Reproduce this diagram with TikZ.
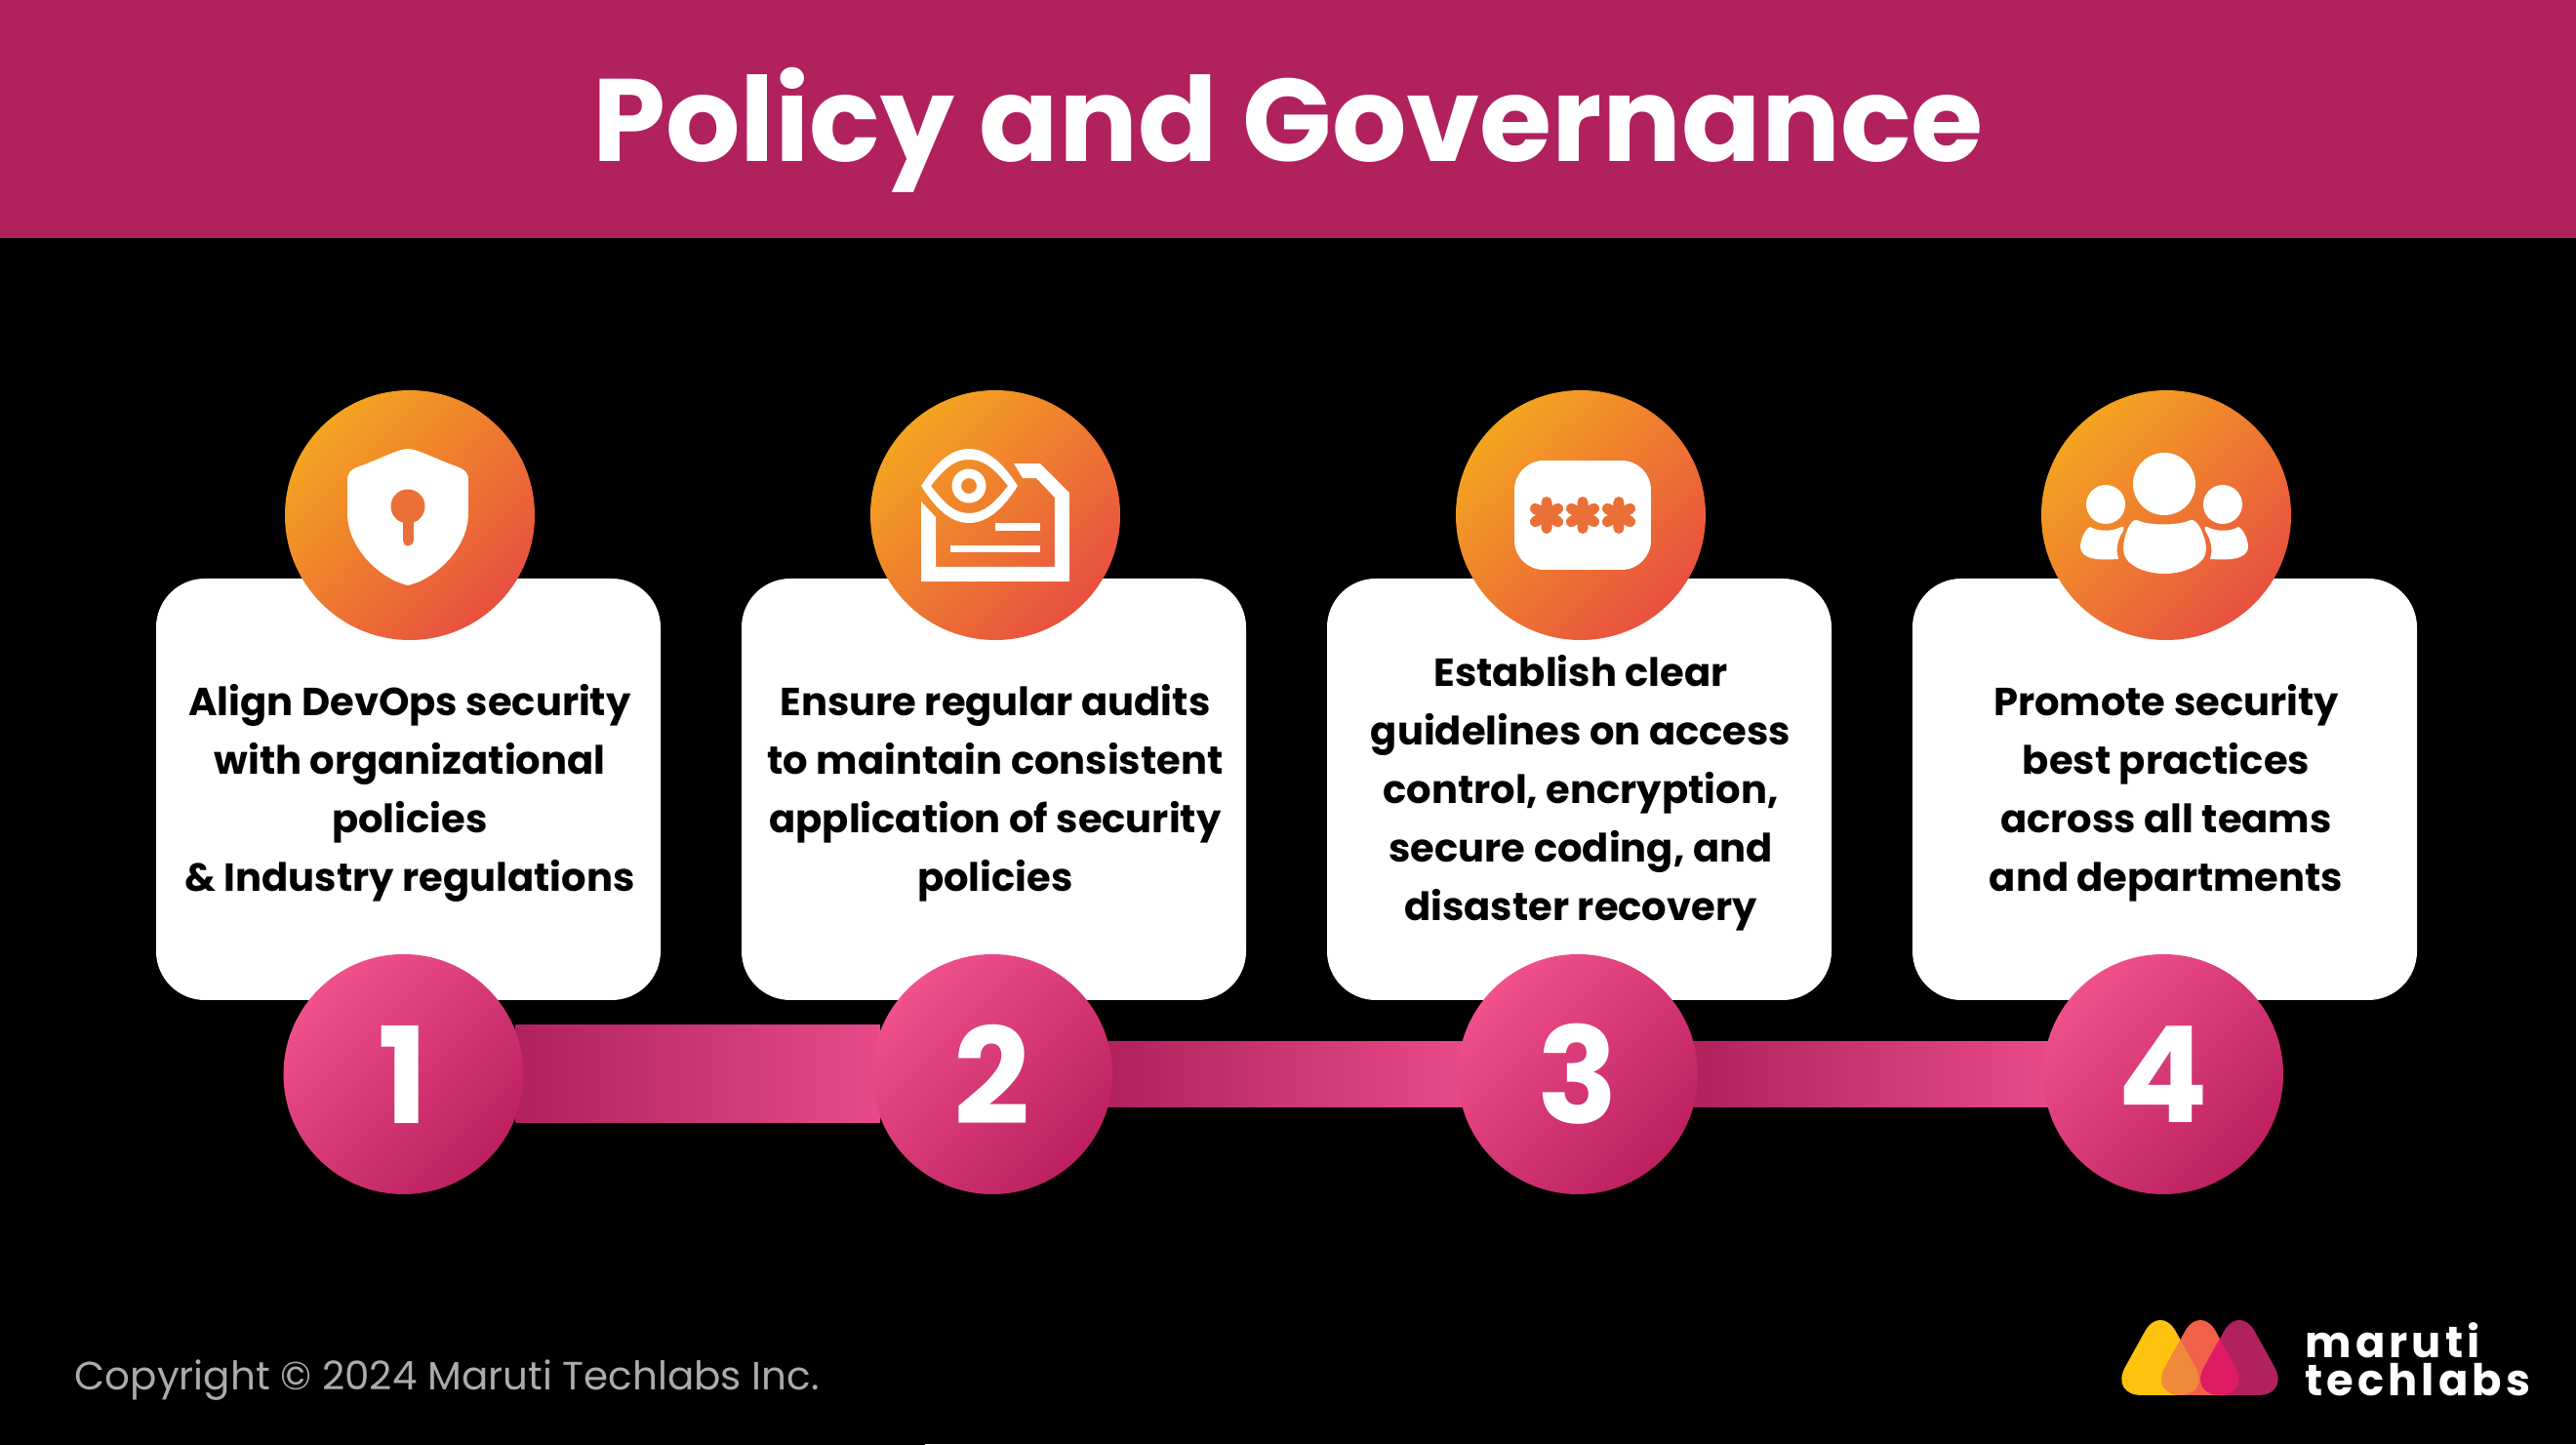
\documentclass[tikz,border=0pt]{standalone}
\usepackage{fontspec}
\setmainfont{Poppins}
\newfontfamily\logofont[LetterSpace=9]{Poppins}
\usepackage{tikz}

\definecolor{headerpink}{HTML}{B0215E}
\definecolor{iconorange}{HTML}{EB7038}
\definecolor{sunyellow}{HTML}{F4A420}
\definecolor{sunred}{HTML}{E85040}
\definecolor{dotlight}{HTML}{F0508C}
\definecolor{dotmid}{HTML}{CC1A5C}
\definecolor{dotdark}{HTML}{BC2060}
\definecolor{bandlight}{HTML}{E84A8A}
\definecolor{copygrey}{HTML}{ABABAB}
\definecolor{logoyellow}{HTML}{FFC20E}
\definecolor{logored}{HTML}{F2604A}
\definecolor{logoorange}{HTML}{F08A3A}
\definecolor{logopink}{HTML}{DE1B63}

\newcommand{\logotri}[1]{(#1-.52,.51) -- (#1,1.45) -- (#1+.52,.51) -- cycle}

\tikzset{
    card/.style={
        fill=white, rounded corners=.5cm, minimum width=5.17cm, minimum height=4.32cm,
        inner sep=0pt
    },
    cardtext/.style={
        inner sep=0pt, align=center, text=black, xshift=.015cm, yshift=-.04cm,
        font=\bfseries\fontsize{11.4}{17.07}\selectfont
    },
    icondot/.style={
        circle, minimum size=2.56cm, inner sep=0pt,
        left color=sunyellow, right color=sunred, shading angle=45
    },
    numdot/.style={
        circle, minimum size=2.46cm, inner sep=0pt, text=white,
        left color=dotlight, middle color=dotmid, right color=dotdark, shading angle=45,
        font=\bfseries\fontsize{39}{39}\selectfont
    },
    iconpart/.style={shift={(#1)}, x=.01cm, y=.01cm}
}

\begin{document}
\begin{tikzpicture}
    \useasboundingbox (0,0) rectangle (26.4,14.81);
    \fill[black] (0,0) rectangle (26.4,14.81);
    \fill[white] (9.48,0) rectangle (26.4,.012);

    % header
    \node (header) at (13.2,13.59) [
        fill=headerpink, minimum width=26.4cm, minimum height=2.44cm, inner sep=0pt
    ] {};
    \node (title) at (13.2,13.48) [
        inner sep=0pt, text=white, font=\bfseries\fontsize{34.2}{40}\selectfont
    ] {Policy and Governance};

    % cards
    \node[card] (card1) at (4.185,6.72) {};
    \node[card] (card2) at (10.185,6.72) {};
    \node[card] (card3) at (16.185,6.72) {};
    \node[card] (card4) at (22.185,6.72) {};
    \node[cardtext] (text1) at (card1) {Align DevOps security\\with organizational\\policies\\\& Industry regulations};
    \node[cardtext] (text2) at (card2) {Ensure regular audits\\to maintain consistent\\application of security\\policies};
    \node[cardtext] (text3) at (card3) {Establish clear\\guidelines on access\\control, encryption,\\secure coding, and\\disaster recovery};
    \node[cardtext] (text4) at (card4) {Promote security\\best practices\\across all teams\\and departments};

    % icons
    \node[icondot] (icon1) at (4.20,9.53) {};
    \node[icondot] (icon2) at (10.20,9.53) {};
    \node[icondot] (icon3) at (16.20,9.53) {};
    \node[icondot] (icon4) at (22.20,9.53) {};

    % shield
    \begin{scope}[iconpart=icon1]
        \fill[white] (-2,68) .. controls (8,68) and (30,56) .. (48,50)
            .. controls (56,47) and (60,44) .. (60,36) -- (60,2)
            .. controls (60,-35) and (25,-66) .. (-2,-72)
            .. controls (-29,-66) and (-64,-35) .. (-64,2) -- (-64,36)
            .. controls (-64,44) and (-60,47) .. (-52,50)
            .. controls (-34,56) and (-12,68) .. (-2,68) -- cycle;
        \fill[iconorange] (-2,9) circle (17.5);
        \draw[iconorange, line width=.11cm, line cap=round] (-2,5) -- (-2,-26);
    \end{scope}

    % document with eye
    \begin{scope}[iconpart=icon2]
        \fill[white] (-76,14) -- (-76,-68) -- (76,-68) -- (76,23) -- (46,53) -- (19,53) -- (28,38)
            -- (42,38) -- (61,18) -- (61,-53) -- (-61,-53) -- (-61,-2) -- cycle;
        \fill[white, even odd rule] (-76,30) .. controls (-60,55) and (-45,68) .. (-27,68)
            .. controls (-9,68) and (7,55) .. (23,30)
            .. controls (7,5) and (-9,-8) .. (-27,-8)
            .. controls (-45,-8) and (-60,5) .. (-76,30) -- cycle
            (-66,30) .. controls (-52,48) and (-42,57) .. (-27,57)
            .. controls (-12,57) and (-1,48) .. (13,30)
            .. controls (-1,12) and (-12,2) .. (-27,2)
            .. controls (-42,2) and (-52,12) .. (-66,30) -- cycle;
        \fill[white, even odd rule] (-27,30) circle (17.5) (-27,30) circle (8);
        \fill[white] (0,-8) rectangle (46,-16);
        \fill[white] (-46,-31) rectangle (46,-38);
    \end{scope}

    % password box
    \begin{scope}[iconpart=icon3]
        \fill[white, rounded corners=.3cm] (-68,56) rectangle (72,-56);
        \draw[iconorange, line width=.11cm, line cap=round]
            (-35,13.5) -- (-35,-13.5) (-46.7,6.75) -- (-23.3,-6.75) (-46.7,-6.75) -- (-23.3,6.75)
            (2,13.5) -- (2,-13.5) (-9.7,6.75) -- (13.7,-6.75) (-9.7,-6.75) -- (13.7,6.75)
            (39,13.5) -- (39,-13.5) (27.3,6.75) -- (50.7,-6.75) (27.3,-6.75) -- (50.7,6.75);
    \end{scope}

    % people
    \begin{scope}[iconpart=icon4]
        \fill[white] (-2,32) circle (32);
        \fill[white] (-62,11) circle (20);
        \fill[white] (58,11) circle (20);
        \fill[white] (-30,-5) .. controls (-18,-11) and (13,-11) .. (25,-5)
            .. controls (32,-3) and (41,-22) .. (41,-35)
            .. controls (41,-50) and (20,-60) .. (-2,-60)
            .. controls (-24,-60) and (-44,-50) .. (-44,-35)
            .. controls (-44,-22) and (-37,-3) .. (-30,-5) -- cycle;
        \fill[white] (-78,-12) .. controls (-70,-17) and (-55,-17) .. (-46,-12)
            .. controls (-43,-11) and (-43,-14) .. (-44,-16)
            .. controls (-50,-25) and (-52,-35) .. (-49,-45)
            .. controls (-65,-46) and (-88,-47) .. (-88,-32)
            .. controls (-88,-25) and (-83,-14) .. (-78,-12) -- cycle;
        \fill[white] (74,-12) .. controls (66,-17) and (51,-17) .. (42,-12)
            .. controls (39,-11) and (39,-14) .. (40,-16)
            .. controls (46,-25) and (48,-35) .. (45,-45)
            .. controls (61,-46) and (84,-47) .. (84,-32)
            .. controls (84,-25) and (79,-14) .. (74,-12) -- cycle;
    \end{scope}

    % numbers and the bands between them
    \coordinate (num1pos) at (4.135,3.80);
    \coordinate (num2pos) at (10.17,3.80);
    \coordinate (num3pos) at (16.17,3.80);
    \coordinate (num4pos) at (22.17,3.80);
    \shade[left color=headerpink, right color=bandlight] ([xshift=1.15cm,yshift=.50cm]num1pos) rectangle ([xshift=-1.15cm,yshift=-.50cm]num2pos);
    \shade[left color=headerpink, right color=bandlight] ([xshift=1.15cm,yshift=.335cm]num2pos) rectangle ([xshift=-1.15cm,yshift=-.335cm]num3pos);
    \shade[left color=headerpink, right color=bandlight] ([xshift=1.15cm,yshift=.335cm]num3pos) rectangle ([xshift=-1.15cm,yshift=-.335cm]num4pos);
    \node[numdot] (num1) at (num1pos) {1};
    \node[numdot] (num2) at (num2pos) {2};
    \node[numdot] (num3) at (num3pos) {3};
    \node[numdot] (num4) at (num4pos) {4};

    % footer
    \node (copyright) at (.76,.66) [anchor=west, inner sep=0pt, text=copygrey, font=\fontsize{11.5}{14}\selectfont] {Copyright © 2024 Maruti Techlabs Inc.};

    % logo
    \fill[logoyellow, rounded corners=.33cm] \logotri{22.14};
    \fill[logored, rounded corners=.33cm] \logotri{22.55};
    \fill[headerpink, rounded corners=.33cm] \logotri{22.95};
    \begin{scope}
        \clip[rounded corners=.33cm] \logotri{22.14};
        \fill[logoorange, rounded corners=.33cm] \logotri{22.55};
    \end{scope}
    \begin{scope}
        \clip[rounded corners=.33cm] \logotri{22.55};
        \fill[logopink, rounded corners=.33cm] \logotri{22.95};
    \end{scope}
    \node (logotext) at (23.62,.88) [
        anchor=west, inner sep=0pt, text=white, align=left,
        font=\logofont\bfseries\fontsize{12.75}{11.1}\selectfont
    ] {maruti\\techlabs};
\end{tikzpicture}
\end{document}
